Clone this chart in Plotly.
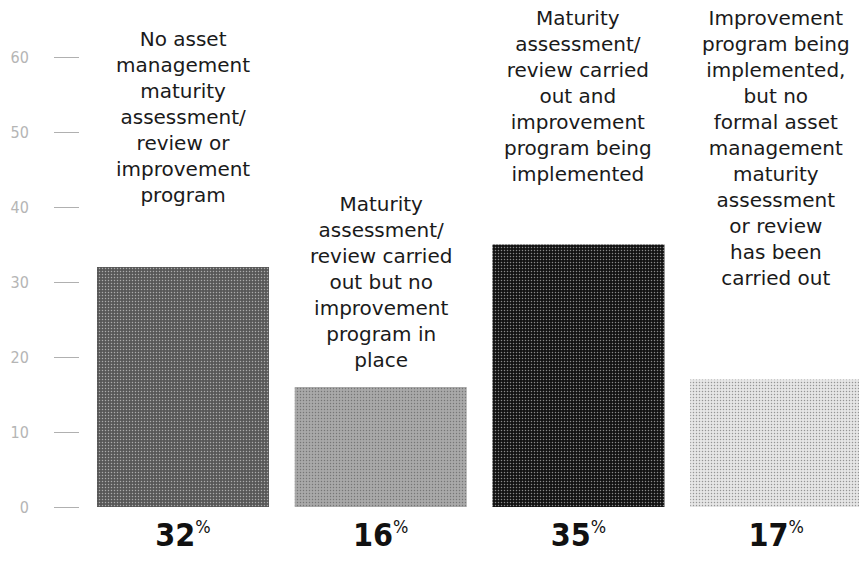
import plotly.graph_objects as go

# survey result per category
categories = [
    "No asset<br>management<br>maturity<br>assessment/<br>review or<br>improvement<br>program",
    "Maturity<br>assessment/<br>review carried<br>out but no<br>improvement<br>program in<br>place",
    "Maturity<br>assessment/<br>review carried<br>out and<br>improvement<br>program being<br>implemented",
    "Improvement<br>program being<br>implemented,<br>but no<br>formal asset<br>management<br>maturity<br>assessment<br>or review<br>has been<br>carried out",
]
percent = [32, 16, 35, 17]
y_ticks = [0, 10, 20, 30, 40, 50, 60]

bar_colors = ["#575757", "#a9a9a9", "#121212", "#e6e6e6"]
dot_colors = ["#333333", "#8c8c8c", "#3a3a3a", "#b5b5b5"]
label_top = [64.2, 42.3, 67.0, 67.0]  # where each description starts (y units)
y_max = 67.6

x = list(range(len(percent)))
cond = "DejaVu Sans Condensed, Liberation Sans Narrow, Roboto, sans-serif"

fig = go.Figure()
fig.add_trace(go.Bar(
    x=x, y=percent, width=0.87,
    marker=dict(color=bar_colors, line=dict(width=0),
                pattern=dict(shape=".", bgcolor=bar_colors, fgcolor=dot_colors,
                             size=3, solidity=0.2)),
    hoverinfo="skip",
))

for i, txt in enumerate(categories):
    fig.add_annotation(x=i, y=label_top[i] / y_max, yref="paper", text=txt,
                       showarrow=False, xanchor="center", yanchor="top", align="center",
                       font=dict(family="DejaVu Sans", size=20, color="#1a1a1a"))

fig.update_layout(
    width=859, height=561,
    margin=dict(l=80, r=0, t=0, b=54),
    plot_bgcolor="white", paper_bgcolor="white",
    showlegend=False,
    xaxis=dict(range=[-0.521, 3.419], showgrid=False, zeroline=False, showline=False,
               tickmode="array", tickvals=x,
               ticktext=[f"<b>{p}</b><sup><span style='font-size:18px'>%</span></sup>"
                         for p in percent],
               tickfont=dict(family=cond, size=32, color="#111111"),
               ticks="", ticklabelstandoff=6),
    yaxis=dict(range=[0, y_max], showgrid=False, zeroline=False, showline=False,
               tickmode="array", tickvals=y_ticks,
               ticks="outside", ticklen=25, tickwidth=1, tickcolor="#b0b0b0",
               ticklabelstandoff=22,
               tickfont=dict(family=cond, size=16, color="#b5b5b5")),
)

# drop the default body margin so the figure fills the window exactly
fig.write_html("out.html", config={"displayModeBar": False},
               post_script="document.body.style.margin='0';")
